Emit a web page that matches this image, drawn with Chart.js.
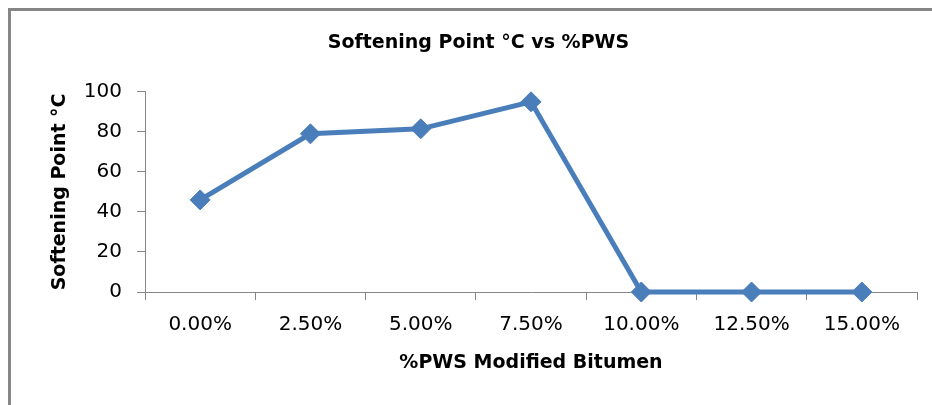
<!DOCTYPE html>
<html>
<head>
<meta charset="utf-8">
<script src="https://cdn.jsdelivr.net/npm/chart.js@4.4.0/dist/chart.umd.min.js"></script>
<style>
  html, body { margin: 0; padding: 0; background: #ffffff; }
  #wrap { position: relative; width: 932px; height: 405px; }
</style>
</head>
<body>
<div id="wrap"><canvas id="c"></canvas></div>
<script>
const categories = ["0.00%", "2.50%", "5.00%", "7.50%", "10.00%", "12.50%", "15.00%"];
const softeningPoint = [46, 79, 81.5, 95, 0, 0, 0];
const yTicks = [0, 20, 40, 60, 80, 100];
const chartTitle = "Softening Point \u00B0C vs %PWS";
const xTitle = "%PWS Modified Bitumen";
const yTitle = "Softening Point \u00B0C";

const frame = {
  id: 'frame',
  beforeDraw(chart) {
    const ctx = chart.ctx;
    ctx.save();
    ctx.fillStyle = '#ffffff';
    ctx.fillRect(0, 0, chart.width, chart.height);
    ctx.strokeStyle = '#868686';
    ctx.lineWidth = 3;
    ctx.beginPath();
    ctx.moveTo(9.5, chart.height);
    ctx.lineTo(9.5, 9.5);
    ctx.lineTo(chart.width, 9.5);
    ctx.stroke();
    ctx.restore();
  }
};

new Chart(document.getElementById('c'), {
  type: 'line',
  data: {
    labels: categories,
    datasets: [{
      label: 'Softening Point',
      data: softeningPoint,
      borderColor: '#4A7EBB',
      backgroundColor: '#4A7EBB',
      borderWidth: 5,
      tension: 0,
      pointStyle: 'rectRot',
      pointRadius: 10,
      pointHoverRadius: 10,
      pointBorderWidth: 1,
      pointBackgroundColor: '#4A7EBB',
      pointBorderColor: '#4A7EBB',
      clip: false
    }]
  },
  plugins: [frame],
  options: {
    responsive: true,
    maintainAspectRatio: false,
    animation: false,
    layout: { padding: { left: 40, right: 15, top: 0, bottom: 0 } },
    plugins: {
      legend: { display: false },
      tooltip: { enabled: false },
      title: {
        display: true,
        text: chartTitle,
        color: '#000000',
        font: { family: 'DejaVu Sans', size: 19, weight: 'bold' },
        padding: { top: 32, bottom: 37 }
      }
    },
    scales: {
      x: {
        type: 'category',
        offset: true,
        afterFit(scale) { scale.height = 113; },
        grid: { display: true, offset: true, drawOnChartArea: false, drawTicks: true, tickLength: 8, color: '#868686' },
        border: { display: true, color: '#868686', width: 1 },
        ticks: {
          color: '#000000',
          padding: 13,
          maxRotation: 0,
          autoSkip: false,
          font: { family: 'DejaVu Sans', size: 20 }
        },
        title: {
          display: true,
          text: xTitle,
          color: '#000000',
          font: { family: 'DejaVu Sans', size: 19, weight: 'bold' },
          padding: { top: 4, bottom: 31 }
        }
      },
      y: {
        min: 0,
        max: 100,
        afterFit(scale) { scale.width = 105; },
        afterBuildTicks(scale) { scale.ticks = yTicks.map(v => ({ value: v })); },
        grid: { display: true, drawOnChartArea: false, drawTicks: true, tickLength: 8, color: '#868686' },
        border: { display: true, color: '#868686', width: 1 },
        ticks: {
          color: '#000000',
          padding: 15,
          font: { family: 'DejaVu Sans', size: 20 }
        },
        title: {
          display: true,
          text: yTitle,
          color: '#000000',
          font: { family: 'DejaVu Sans', size: 19, weight: 'bold' },
          padding: { top: 9, bottom: 0 }
        }
      }
    }
  }
});
</script>
</body>
</html>
